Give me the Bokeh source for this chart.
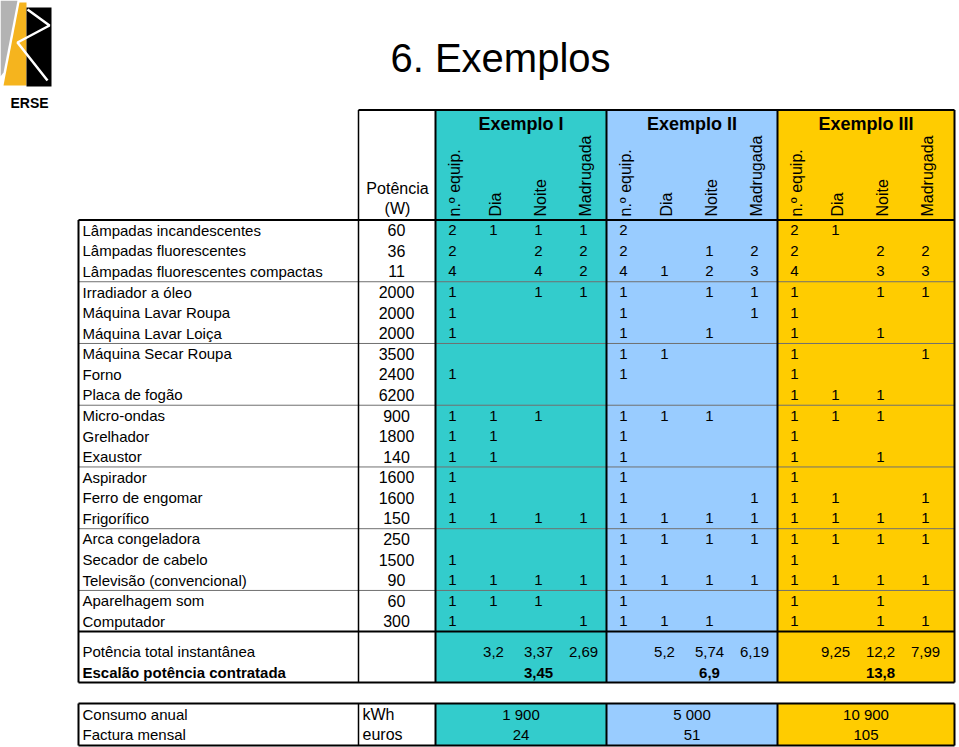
import numpy as np
from bokeh.plotting import figure
from bokeh.models import Range1d, ColumnDataSource
from bokeh.core.properties import value
from bokeh.embed import file_html
from bokeh.resources import INLINE

# ---------------- data ----------------
title = "6. Exemplos"
appliances = [
    "Lâmpadas incandescentes", "Lâmpadas fluorescentes", "Lâmpadas fluorescentes compactas",
    "Irradiador a óleo", "Máquina Lavar Roupa", "Máquina Lavar Loiça",
    "Máquina Secar Roupa", "Forno", "Placa de fogão",
    "Micro-ondas", "Grelhador", "Exaustor",
    "Aspirador", "Ferro de engomar", "Frigorífico",
    "Arca congeladora", "Secador de cabelo", "Televisão (convencional)",
    "Aparelhagem som", "Computador",
]
power_w = [60, 36, 11, 2000, 2000, 2000, 3500, 2400, 6200, 900, 1800, 140,
           1600, 1600, 150, 250, 1500, 90, 60, 300]
examples = ["Exemplo I", "Exemplo II", "Exemplo III"]
sub_headers = ["n.º equip.", "Dia", "Noite", "Madrugada"]

N = None
ex1_equip = [2, 2, 4, 1, 1, 1, N, 1, N, 1, 1, 1, 1, 1, 1, N, 1, 1, 1, 1]
ex1_dia   = [1, N, N, N, N, N, N, N, N, 1, 1, 1, N, N, 1, N, N, 1, 1, N]
ex1_noite = [1, 2, 4, 1, N, N, N, N, N, 1, N, N, N, N, 1, N, N, 1, 1, N]
ex1_madr  = [1, 2, 2, 1, N, N, N, N, N, N, N, N, N, N, 1, N, N, 1, N, 1]

ex2_equip = [2, 2, 4, 1, 1, 1, 1, 1, N, 1, 1, 1, 1, 1, 1, 1, 1, 1, 1, 1]
ex2_dia   = [N, N, 1, N, N, N, 1, N, N, 1, N, N, N, N, 1, 1, N, 1, N, 1]
ex2_noite = [N, 1, 2, 1, N, 1, N, N, N, 1, N, N, N, N, 1, 1, N, 1, N, 1]
ex2_madr  = [N, 2, 3, 1, 1, N, N, N, N, N, N, N, N, 1, 1, 1, N, 1, N, N]

ex3_equip = [2, 2, 4, 1, 1, 1, 1, 1, 1, 1, 1, 1, 1, 1, 1, 1, 1, 1, 1, 1]
ex3_dia   = [1, N, N, N, N, N, N, N, 1, 1, N, N, N, 1, 1, 1, N, 1, N, N]
ex3_noite = [N, 2, 3, 1, N, 1, N, N, 1, 1, N, 1, N, N, 1, 1, N, 1, 1, 1]
ex3_madr  = [N, 2, 3, 1, N, N, 1, N, N, N, N, N, N, 1, 1, 1, N, 1, N, 1]

# Potência total instantânea (Dia, Noite, Madrugada)
ex1_total = [3.2, 3.37, 2.69]
ex2_total = [5.2, 5.74, 6.19]
ex3_total = [9.25, 12.2, 7.99]
escalao = [3.45, 6.9, 13.8]
consumo_kwh = [1900, 5000, 10900]
factura_eur = [24, 51, 105]

row_labels_tot = ["Potência total instantânea", "Escalão potência contratada"]
row_labels_bottom = ["Consumo anual", "Factura mensal"]
units_bottom = ["kWh", "euros"]

# ---------------- layout (reference pixel space) ----------------
W, H = 959, 747
S = 1.0
FONT = value("Liberation Sans")

def fs(px):
    return f"{px * S:.1f}px"

p = figure(width=W, height=H, x_range=Range1d(0, 959), y_range=Range1d(747, 0),
           output_backend="svg", toolbar_location=None, min_border=0)
p.axis.visible = False
p.grid.visible = False
p.outline_line_color = None
p.background_fill_color = "white"

X_L, X_NAME_R, X_POW_R, X_R = 78, 358, 435, 954
EX_X = [435, 606, 777]
EX_R = [606, 777, 954]
SUB_OFF = [17, 58, 103, 148]
Y_HEAD_T, Y_HEAD_B = 109.5, 219.5
ROW_H = 20.58
Y_BODY_B = Y_HEAD_B + 20 * ROW_H
Y_TOT_B = 682
Y_T2_T, Y_T2_B = 703, 745
COLORS = ["#33CCCC", "#99CCFF", "#FFCC00"]

def fmt_dec(v):
    return f"{v}".replace(".", ",")

def fmt_thousand(v):
    return f"{v:,}".replace(",", " ")

# fills
p.quad(left=EX_X, right=EX_R, top=[Y_HEAD_T] * 3, bottom=[Y_TOT_B] * 3,
       fill_color=COLORS, line_color=None)
p.quad(left=EX_X, right=EX_R, top=[Y_T2_T] * 3, bottom=[Y_T2_B] * 3,
       fill_color=COLORS, line_color=None)

# logo
p.patches(xs=[[0, 17, 3, 0], [19, 26, 26, 3], [26, 51, 51, 26]],
          ys=[[0, 0, 72, 76], [2, 2, 85, 85], [7, 7, 86, 86]],
          fill_color=["#B3B3B3", "#F5B41E", "#000000"], line_color=None)
p.line(x=[27, 49, 17, 47], y=[9, 25, 42, 80], line_color="white", line_width=2.5)
p.text(x=[29], y=[102], text=["ERSE"], text_font=FONT, text_font_size=fs(14),
       text_font_style="bold", text_align="center", text_baseline="middle")

# title
p.text(x=[500], y=[57], text=[title], text_font=FONT, text_font_size=fs(40),
       text_align="center", text_baseline="middle", text_color="black")

# grey group lines
gl_y = [Y_HEAD_B + ROW_H * 3 * k for k in range(1, 7)]
p.segment(x0=[X_L] * 6, x1=[X_R] * 6, y0=gl_y, y1=gl_y, line_color="#707070", line_width=1)

# thick lines
hx0 = [X_NAME_R, X_L, X_L, X_L, X_L, X_L]
hx1 = [X_R] * 6
hy = [Y_HEAD_T, Y_HEAD_B, Y_BODY_B, Y_TOT_B, Y_T2_T, Y_T2_B]
p.segment(x0=hx0, x1=hx1, y0=hy, y1=hy, line_color="black", line_width=2)
vx = [X_L, X_POW_R] + EX_R
p.segment(x0=vx, x1=vx, y0=[Y_HEAD_B, Y_HEAD_T, Y_HEAD_T, Y_HEAD_T, Y_HEAD_T],
          y1=[Y_TOT_B] * 5, line_color="black", line_width=2)
p.segment(x0=vx, x1=vx, y0=[Y_T2_T] * 5, y1=[Y_T2_B] * 5, line_color="black", line_width=2)
p.segment(x0=[X_NAME_R, X_NAME_R], x1=[X_NAME_R, X_NAME_R], y0=[Y_HEAD_T, Y_T2_T],
          y1=[Y_TOT_B, Y_T2_B], line_color="black", line_width=1.5)

# header texts
ex_cx = [(a + b) / 2 for a, b in zip(EX_X, EX_R)]
p.text(x=ex_cx, y=[123] * 3, text=examples, text_font=FONT, text_font_size=fs(18),
       text_font_style="bold", text_align="center", text_baseline="middle")
hx, hy2, ht = [], [], []
for ex0 in EX_X:
    for k, sh in enumerate(sub_headers):
        hx.append(ex0 + SUB_OFF[k] + 2)
        hy2.append(216)
        ht.append(sh)
p.text(x=hx, y=hy2, text=ht, angle=np.pi / 2, text_font=FONT, text_font_size=fs(16),
       text_align="left", text_baseline="middle")
p.text(x=[397, 397], y=[188, 208], text=["Potência", "(W)"], text_font=FONT,
       text_font_size=fs(16), text_align="center", text_baseline="middle")

# body rows
row_y = [Y_HEAD_B + ROW_H * (i + 0.5) for i in range(len(appliances))]
p.text(x=[82] * len(appliances), y=row_y, text=appliances, text_font=FONT,
       text_font_size=fs(15), text_align="left", text_baseline="middle")
p.text(x=[396] * len(power_w), y=row_y, text=[str(v) for v in power_w], text_font=FONT,
       text_font_size=fs(16), text_align="center", text_baseline="middle")

cols = [[ex1_equip, ex1_dia, ex1_noite, ex1_madr],
        [ex2_equip, ex2_dia, ex2_noite, ex2_madr],
        [ex3_equip, ex3_dia, ex3_noite, ex3_madr]]
cx, cy, ct = [], [], []
for e, ex_cols in enumerate(cols):
    for k, col in enumerate(ex_cols):
        for i, v in enumerate(col):
            if v is not None:
                cx.append(EX_X[e] + SUB_OFF[k])
                cy.append(row_y[i])
                ct.append(str(v))
p.text(x=cx, y=cy, text=ct, text_font=FONT, text_font_size=fs(15),
       text_align="center", text_baseline="middle")

# totals
p.text(x=[82], y=[651], text=[row_labels_tot[0]], text_font=FONT, text_font_size=fs(15),
       text_align="left", text_baseline="middle")
p.text(x=[82], y=[672], text=[row_labels_tot[1]], text_font=FONT, text_font_size=fs(15),
       text_font_style="bold", text_align="left", text_baseline="middle")
tx, ty, tt = [], [], []
for e, tots in enumerate([ex1_total, ex2_total, ex3_total]):
    for k, v in enumerate(tots):
        tx.append(EX_X[e] + SUB_OFF[k + 1])
        ty.append(651)
        tt.append(fmt_dec(v))
p.text(x=tx, y=ty, text=tt, text_font=FONT, text_font_size=fs(15),
       text_align="center", text_baseline="middle")
p.text(x=[EX_X[e] + SUB_OFF[2] for e in range(3)], y=[672] * 3,
       text=[fmt_dec(v) for v in escalao], text_font=FONT, text_font_size=fs(15),
       text_font_style="bold", text_align="center", text_baseline="middle")

# bottom table
p.text(x=[82, 82], y=[714, 734], text=row_labels_bottom, text_font=FONT,
       text_font_size=fs(15), text_align="left", text_baseline="middle")
p.text(x=[362, 362], y=[714, 734], text=units_bottom, text_font=FONT,
       text_font_size=fs(16), text_align="left", text_baseline="middle")
p.text(x=ex_cx, y=[714] * 3, text=[fmt_thousand(v) for v in consumo_kwh], text_font=FONT,
       text_font_size=fs(15), text_align="center", text_baseline="middle")
p.text(x=ex_cx, y=[734] * 3, text=[str(v) for v in factura_eur], text_font=FONT,
       text_font_size=fs(15), text_align="center", text_baseline="middle")

open("out.html", "w").write(file_html(p, INLINE))
